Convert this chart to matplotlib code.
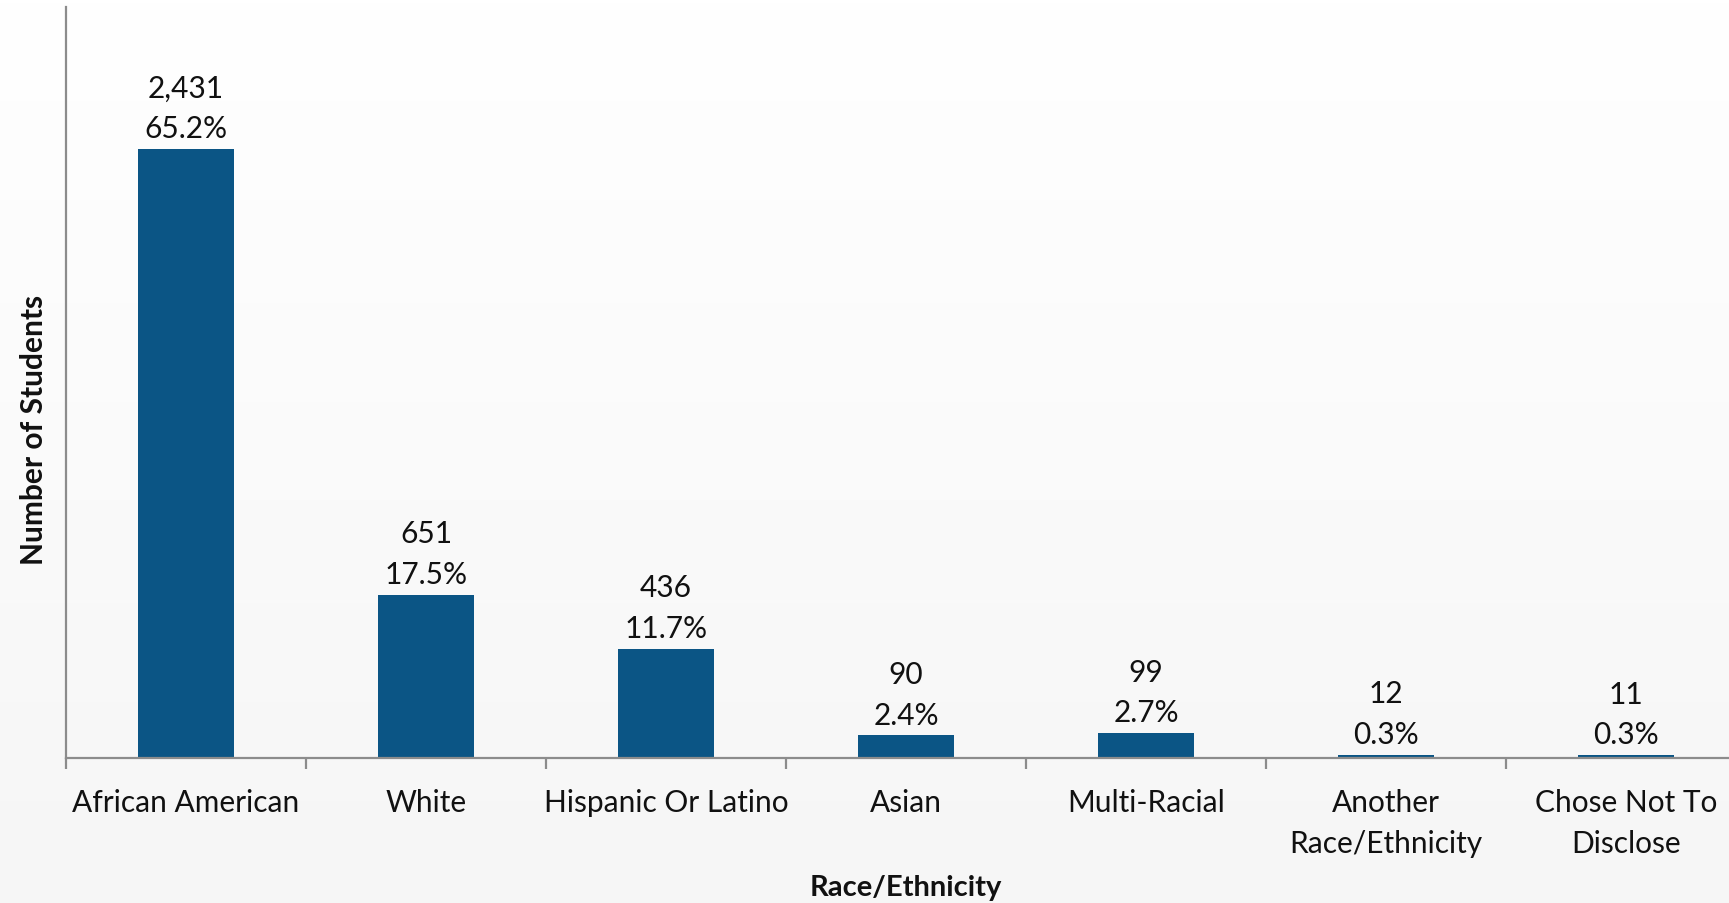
import numpy as np
import matplotlib
matplotlib.use('Agg')
import matplotlib.pyplot as plt
from matplotlib.colors import LinearSegmentedColormap

# data
categories = ['African American', 'White', 'Hispanic Or Latino', 'Asian',
              'Multi-Racial', 'Another\nRace/Ethnicity', 'Chose Not To\nDisclose']
counts = [2431, 651, 436, 90, 99, 12, 11]
percents = ['65.2%', '17.5%', '11.7%', '2.4%', '2.7%', '0.3%', '0.3%']

plt.rcParams['font.family'] = ['Lato', 'DejaVu Sans']

bar_color = '#0b5585'
axis_color = '#8c8c8c'

fig = plt.figure(figsize=(17.29, 9.04), dpi=100)

# background gradient, white at top to light grey at the bottom
bg = fig.add_axes([0, 0, 1, 1], zorder=-10)
grad = np.linspace(0, 1, 256).reshape(-1, 1)
cmap = LinearSegmentedColormap.from_list('bg', ['#ffffff', '#f6f6f6'])
bg.imshow(grad, aspect='auto', cmap=cmap, extent=[0, 1, 0, 1])
bg.axis('off')

ax = fig.add_axes([66 / 1729, 145 / 904, 1680 / 1729, 751 / 904])
ax.patch.set_alpha(0)

x = np.arange(len(categories))
ax.bar(x, counts, width=0.4, color=bar_color)

for xi, c, p in zip(x, counts, percents):
    ax.annotate(f'{c:,}\n{p}', xy=(xi, c), xytext=(0, 5), textcoords='offset points',
                ha='center', va='bottom', fontsize=21.5, linespacing=1.55, color='#111111')

ax.set_xlim(-0.5, len(categories) - 0.5)
ax.set_ylim(0, 3000)

for side in ['top', 'right']:
    ax.spines[side].set_visible(False)
for side in ['left', 'bottom']:
    ax.spines[side].set_color(axis_color)
    ax.spines[side].set_linewidth(1.6)

ax.set_yticks([])
ax.set_xticks(np.arange(len(categories) + 1) - 0.5)
ax.set_xticklabels([])
ax.tick_params(axis='x', which='major', length=8, width=1.6, color=axis_color, direction='out')
ax.set_xticks(x, minor=True)
ax.set_xticklabels(categories, minor=True, fontsize=21.5, linespacing=1.55, color='#111111')
ax.tick_params(axis='x', which='minor', length=0, pad=21.5)

fig.text(34 / 1729, 1 - 430 / 904, 'Number of Students', rotation=90, ha='center', va='center',
         fontsize=21.5, fontweight='bold', color='#111111')
fig.text(906 / 1729, 1 - 888 / 904, 'Race/Ethnicity', ha='center', va='center',
         fontsize=21, fontweight='bold', color='#111111')

fig.savefig('out.png', dpi=100)
